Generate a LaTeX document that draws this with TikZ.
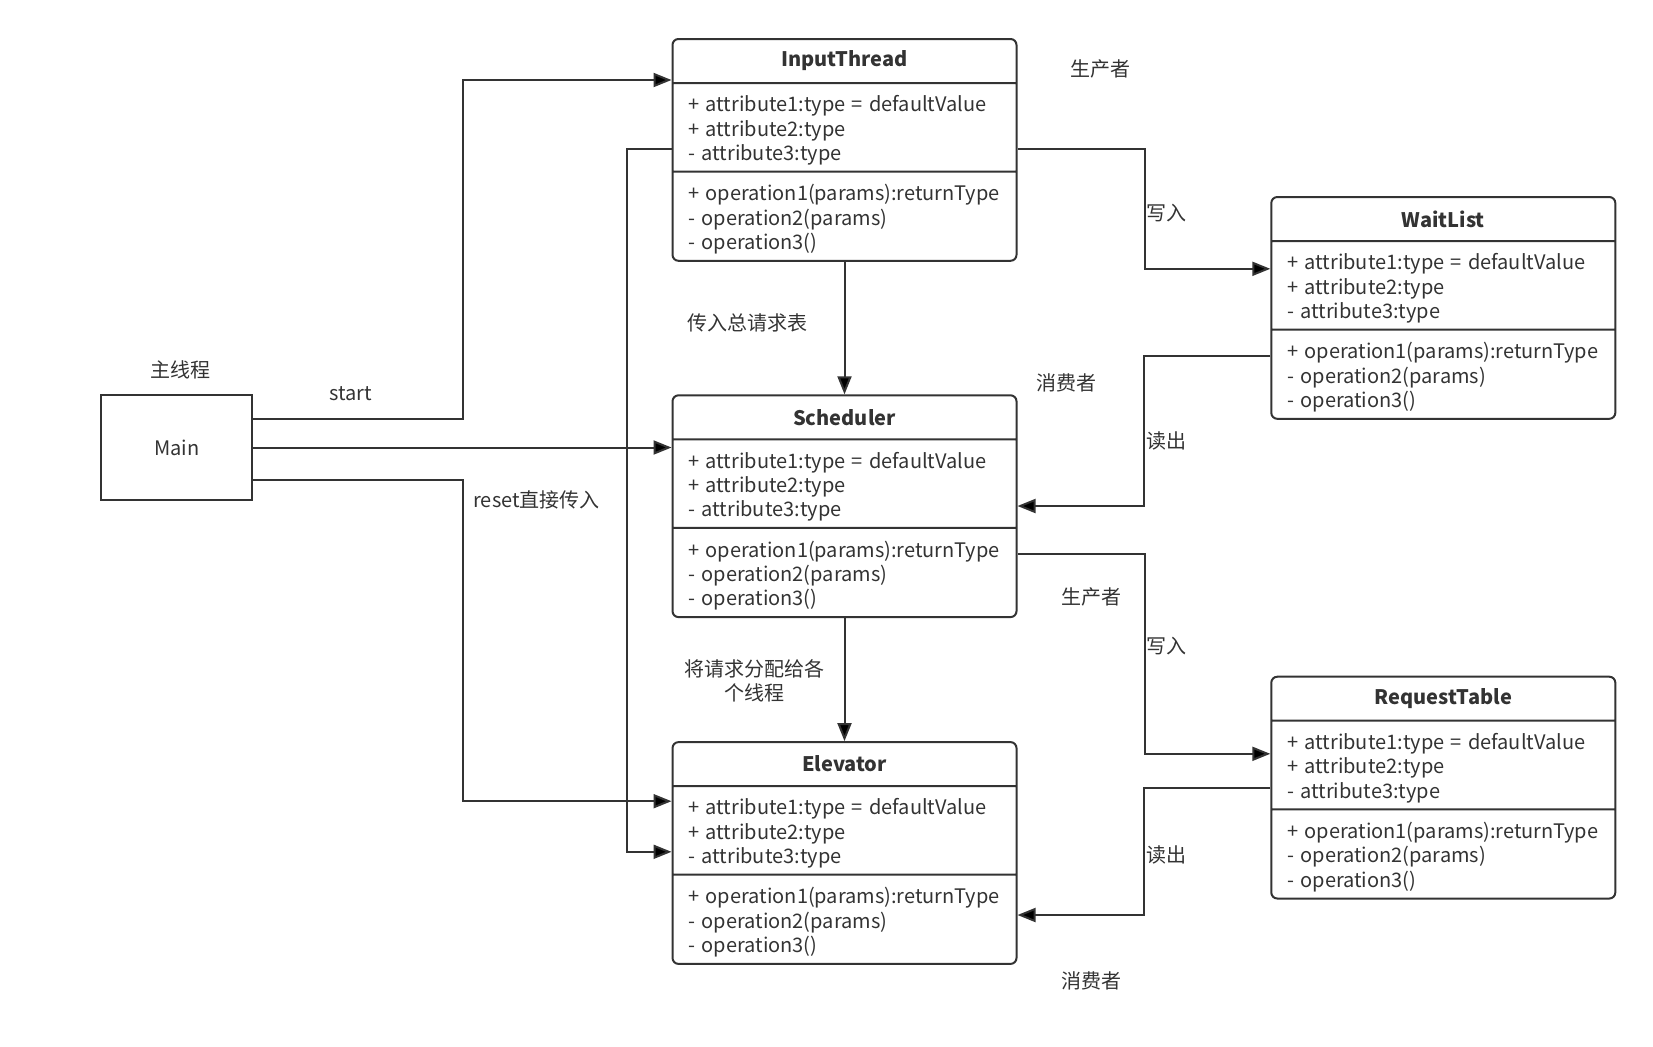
\documentclass[tikz,border=0pt]{standalone}
\usepackage{fontspec}
\setmainfont{Noto Sans CJK SC}[WordSpace=1.4]
\usetikzlibrary{arrows.meta,calc,shapes.multipart}

\definecolor{linegray}{HTML}{333333}
\definecolor{txtgray}{HTML}{333333}

\newcommand{\clsparts}[1]{%
  \parbox[c][21pt][c]{156pt}{\centering\bfseries #1}%
  \nodepart{two}\parbox[c][43.3pt][c]{156pt}{\vspace*{3pt}+ attribute1:type = defaultValue\\+ attribute2:type\\- attribute3:type}%
  \nodepart{three}\parbox[c][43.6pt][c]{156pt}{\vspace*{3pt}+ operation1(params):returnType\\- operation2(params)\\- operation3()}}

\tikzset{
  cls/.style={draw=linegray,line width=1pt,rounded corners=3pt,rectangle split,rectangle split parts=3,
    inner xsep=8pt,inner ysep=0pt,anchor=north west,text=txtgray,font=\fontsize{10}{12.15}\selectfont},
  conn/.style={draw=linegray,line width=1pt,-{Triangle[length=9pt,width=7pt]}},
  lbl/.style={text=txtgray,font=\fontsize{10}{12}\selectfont,inner sep=0pt},
}

\begin{document}
\begin{tikzpicture}[x=0.5pt,y=-0.5pt]
  \useasboundingbox (0,0) rectangle (1653,1046);

  \node[draw=linegray,line width=1pt,minimum width=75.4pt,minimum height=52.2pt,inner sep=0pt,
    text=txtgray,font=\fontsize{10}{12}\selectfont] (main) at (176.6,447.5) {Main};

  \node[cls] (it) at (671.5,38) {\clsparts{InputThread}};
  \node[cls] (sch) at (671.5,394.3) {\clsparts{Scheduler}};
  \node[cls] (el) at (671.5,741.1) {\clsparts{Elevator}};
  \node[cls] (wl) at (1270.3,196) {\clsparts{WaitList}};
  \node[cls] (rt) at (1270.3,675.7) {\clsparts{RequestTable}};

  % main thread
  \draw[conn] ($(main.east)+(0,-29)$) -- ++(209.7,0) |- ($(it.north west)+(0,42)$);
  \draw[conn] (main.east) -- (main.east -| sch.west);
  \draw[conn] ($(main.east)+(0,32.2)$) -- ++(209.7,0) |- ($(el.north west)+(0,60.1)$);

  % input thread
  \draw[conn] ($(it.north west)+(0,110.6)$) -- ++(-44.3,0) |- ($(el.north west)+(0,110.7)$);
  \draw[conn] (it.south) -- (sch.north);
  \draw[conn] ($(it.north east)+(0,110.6)$) -- ++(127.5,0) |- ($(wl.north west)+(0,72.8)$);

  % scheduler
  \draw[conn] ($(wl.north west)+(0,160.3)$) -- ++(-126.5,0) |- ($(sch.north east)+(0,111.7)$);
  \draw[conn] ($(sch.north east)+(0,159.2)$) -- ++(127.5,0) |- ($(rt.north west)+(0,78.1)$);
  \draw[conn] (sch.south) -- (el.north);
  \draw[conn] ($(rt.north west)+(0,111.8)$) -- ++(-126.5,0) |- ($(el.north east)+(0,173.9)$);

  \node[lbl] (lmain) at (180.3,370) {主线程};
  \node[lbl] (lstart) at (351,393.2) {start};
  \node[lbl] (lreset) at (536.6,499.7) {reset直接传入};
  \node[lbl] (lpass) at (747.4,322.6) {传入总请求表};
  \node[lbl,align=center] (lassign) at (754.8,680.5) {将请求分配给各\\个线程};
  \node[lbl] (lprod1) at (1100.6,68.5) {生产者};
  \node[lbl,anchor=west] (lwrite1) at (1146,213) {写入};
  \node[lbl] (lcons1) at (1066.9,382.7) {消费者};
  \node[lbl,anchor=west] (lread1) at (1146,440.7) {读出};
  \node[lbl] (lprod2) at (1091,596.7) {生产者};
  \node[lbl,anchor=west] (lwrite2) at (1146,646.2) {写入};
  \node[lbl,anchor=west] (lread2) at (1146,855) {读出};
  \node[lbl] (lcons2) at (1091,980.4) {消费者};
\end{tikzpicture}
\end{document}
